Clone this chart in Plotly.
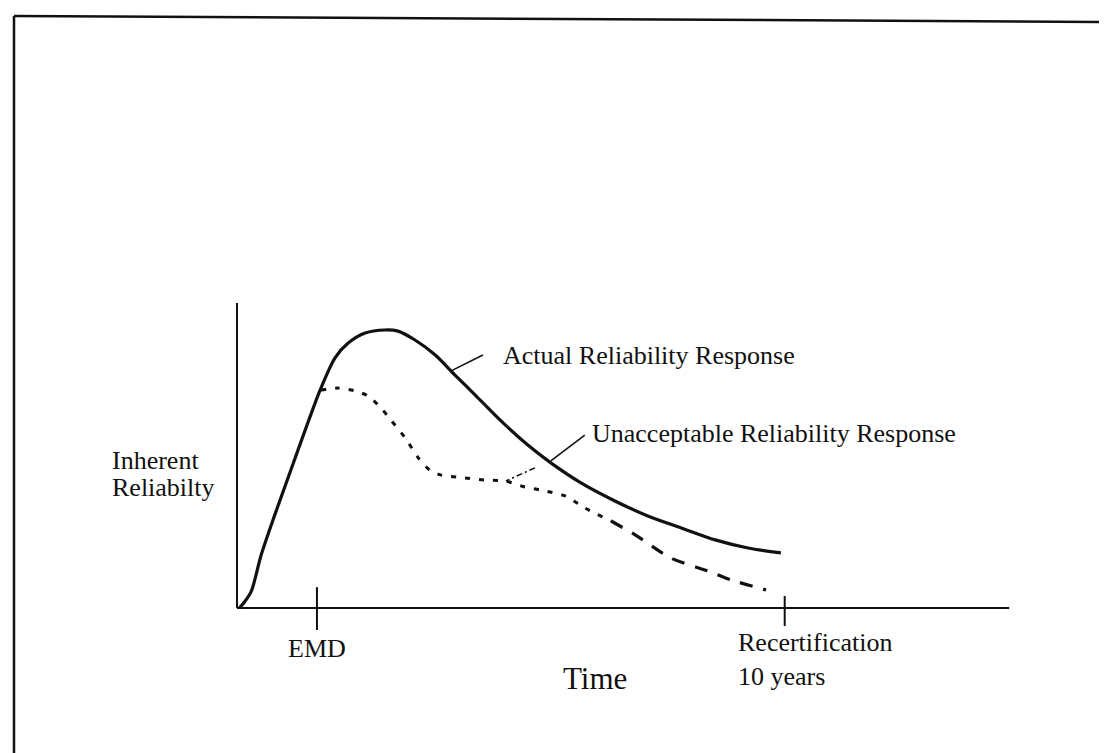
import plotly.graph_objects as go

# ---- data (time in years, reliability in relative units) ----
actual_t = [0.04, 0.13, 0.26, 0.44, 0.69, 0.99, 1.30, 1.53, 1.79, 2.03, 2.34, 2.70, 2.94,
            3.25, 3.62, 3.98, 4.35, 4.82, 5.31, 5.73, 6.28, 6.90, 7.50, 8.11, 8.73, 9.33, 9.93]
actual_r = [0.00, 0.02, 0.06, 0.19, 0.335, 0.50, 0.67, 0.79, 0.90, 0.953, 0.989, 1.00, 0.996,
            0.964, 0.91, 0.838, 0.766, 0.673, 0.586, 0.522, 0.45, 0.385, 0.331, 0.288, 0.245, 0.216, 0.198]

unacc_t = [1.53, 1.84, 2.15, 2.39, 2.63, 2.81, 3.07, 3.31, 3.52, 3.73, 4.16, 4.53, 4.89,
           5.26, 5.55, 5.99, 6.35, 6.83, 7.27, 7.92, 8.60, 9.02, 9.66]
unacc_r = [0.784, 0.791, 0.781, 0.763, 0.719, 0.676, 0.612, 0.540, 0.496, 0.478, 0.468, 0.460, 0.457,
           0.435, 0.424, 0.403, 0.360, 0.313, 0.263, 0.180, 0.133, 0.101, 0.065]

emd_t = 1.46
recert_t = 10.0
x_axis_end = 14.1
y_axis_top = 1.097

tick_labels = ["EMD", "Recertification<br>10 years"]
label_actual = "Actual Reliability Response"
label_unacc = "Unacceptable Reliability Response"
y_label = ["Inherent", "Reliabilty"]
x_label = "Time"

FONT = "Liberation Serif"
INK = "#111111"

fig = go.Figure()

# axes
fig.add_trace(go.Scatter(x=[0, 0], y=[y_axis_top, 0], mode="lines",
                         line=dict(color=INK, width=2), hoverinfo="skip"))
fig.add_trace(go.Scatter(x=[0, x_axis_end], y=[0, 0], mode="lines",
                         line=dict(color=INK, width=2), hoverinfo="skip"))
# ticks
fig.add_trace(go.Scatter(x=[emd_t, emd_t], y=[0.075, -0.079], mode="lines",
                         line=dict(color=INK, width=2), hoverinfo="skip"))
fig.add_trace(go.Scatter(x=[recert_t, recert_t], y=[0.043, -0.065], mode="lines",
                         line=dict(color=INK, width=2), hoverinfo="skip"))

# curves
fig.add_trace(go.Scatter(x=actual_t, y=actual_r, mode="lines",
                         line=dict(color=INK, width=3.2, shape="spline", smoothing=0.8)))
split = 17
fig.add_trace(go.Scatter(x=unacc_t[:split + 1], y=unacc_r[:split + 1], mode="lines",
                         line=dict(color=INK, width=3, dash="5px,9px", shape="spline", smoothing=0.8)))
fig.add_trace(go.Scatter(x=unacc_t[split:], y=unacc_r[split:], mode="lines",
                         line=dict(color=INK, width=3.2, dash="13px,11px", shape="spline", smoothing=0.8)))

# leader lines
fig.add_trace(go.Scatter(x=[4.49, 3.91], y=[0.910, 0.853], mode="lines",
                         line=dict(color=INK, width=1.6)))
fig.add_trace(go.Scatter(x=[6.35, 5.73], y=[0.622, 0.529], mode="lines",
                         line=dict(color=INK, width=1.6)))
fig.add_trace(go.Scatter(x=[5.44, 4.91], y=[0.504, 0.457], mode="lines",
                         line=dict(color=INK, width=1.6, dash="6px,3px,2px,3px")))

ann = []
def txt(x, y, s, size=26, xanchor="left", align="left"):
    ann.append(dict(x=x, y=y, xref="x", yref="y", text=s, showarrow=False,
                    xanchor=xanchor, yanchor="middle", align=align,
                    font=dict(family=FONT, size=size, color=INK)))

txt(4.82, 0.910, label_actual)
txt(6.445, 0.629, label_unacc)
txt(-2.32, 0.532, y_label[0])
txt(-2.32, 0.435, y_label[1])
txt(emd_t, -0.144, tick_labels[0], xanchor="center", align="center")
txt(9.11, -0.187, tick_labels[1])
txt(5.92, -0.252, x_label, size=31)

# border (scanned frame)
W, H = 1107, 753
shapes = [
    dict(type="line", xref="paper", yref="paper", x0=6 / W, x1=6 / W, y0=1 - 8 / H, y1=1 - 748 / H,
         line=dict(color=INK, width=2.5)),
    dict(type="line", xref="paper", yref="paper", x0=6 / W, x1=1.0, y0=1 - 8 / H, y1=1 - 14 / H,
         line=dict(color=INK, width=2.5)),
    dict(type="line", xref="paper", yref="paper", x0=6 / W, x1=1.0, y0=1 - 748 / H, y1=1 - 748 / H,
         line=dict(color=INK, width=2.5)),
]

x0px, xs = 229.0, 54.77
y0px, ys = 600.0, 278.0
fig.update_layout(
    width=W, height=H, margin=dict(l=0, r=0, t=0, b=0),
    paper_bgcolor="white", plot_bgcolor="white", showlegend=False,
    xaxis=dict(range=[-x0px / xs, (W - x0px) / xs], visible=False, fixedrange=True),
    yaxis=dict(range=[(y0px - H) / ys, y0px / ys], visible=False, fixedrange=True),
    annotations=ann, shapes=shapes,
)

fig.write_html("out.html")
